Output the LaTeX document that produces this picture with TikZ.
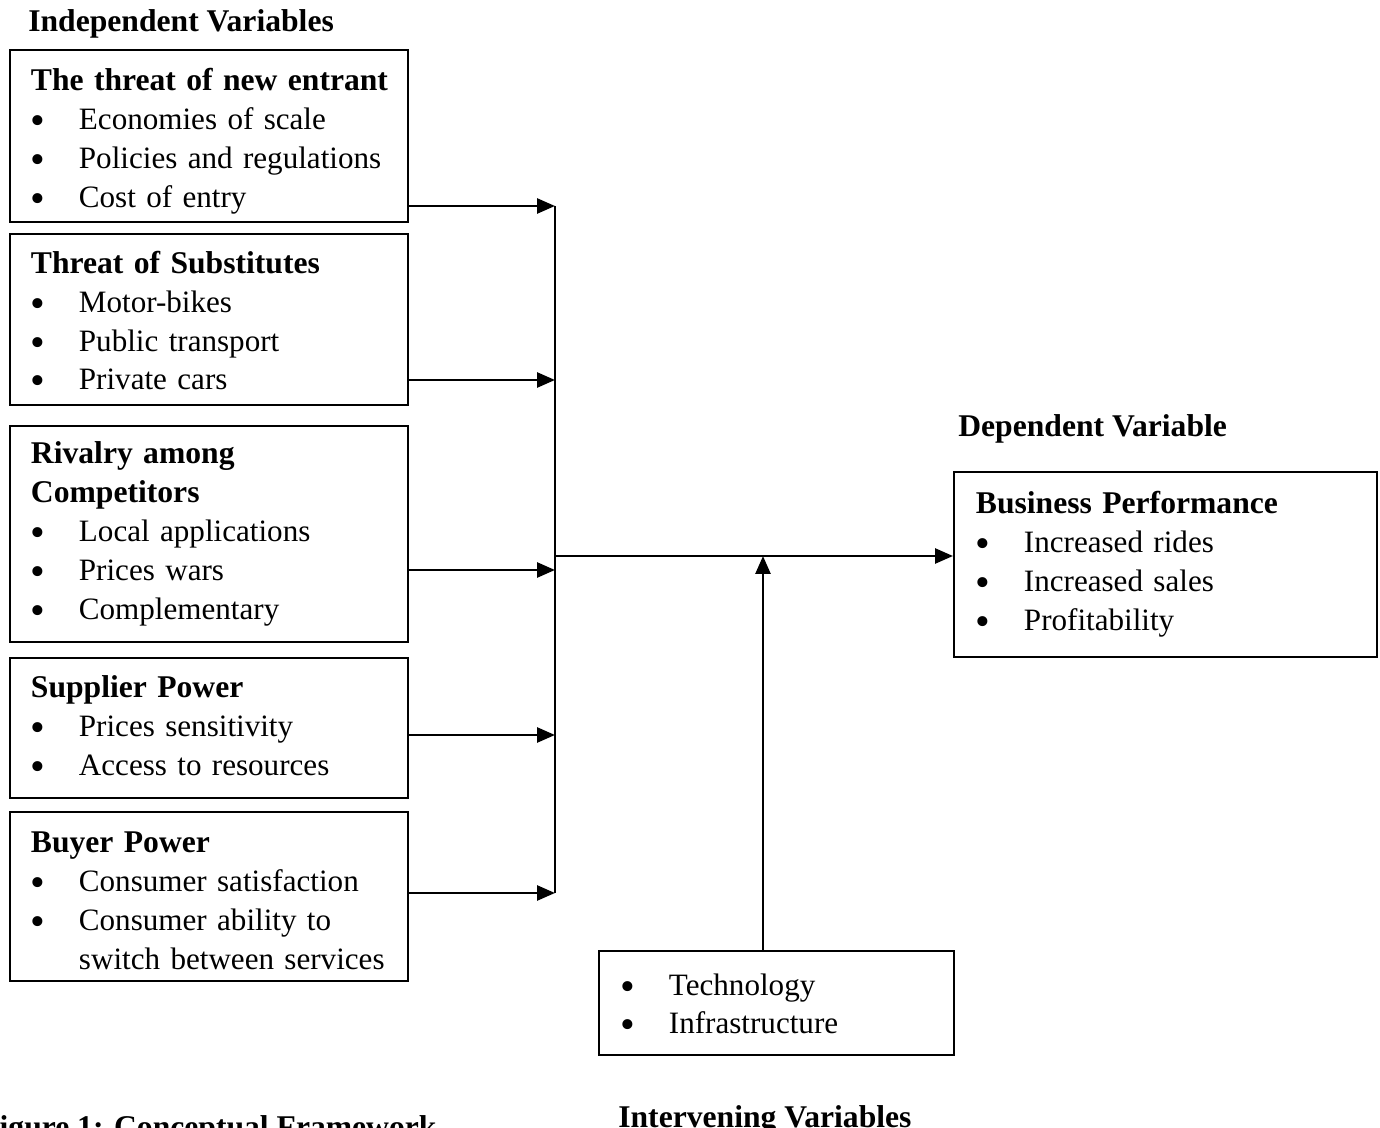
\documentclass[tikz,border=0pt]{standalone}
\usepackage{fontspec}
\setmainfont{Liberation Serif}
\usetikzlibrary{arrows.meta,positioning}
\newcommand{\varfont}{\fontsize{17.7pt}{22.1pt}\selectfont}
\newcommand{\itm}[1]{\mbox{\makebox[0.96cm][l]{\raisebox{-0.35ex}{\scalebox{1.35}{\textbullet}}}#1}}
\newcommand{\cont}[1]{\mbox{\hspace*{0.96cm}#1}}
\newcommand{\ttl}[1]{\mbox{\fontsize{18pt}{22.1pt}\selectfont\textbf{#1}}}
\tikzset{
  varbox/.style={
    draw=black,
    line width=1.1pt,
    anchor=north west,
    align=left,
    inner xsep=0.42cm,
    inner ysep=0pt,
    font=\varfont
  },
  heading/.style={anchor=base west, inner sep=0pt, font=\fontsize{18pt}{22.1pt}\selectfont\bfseries},
  line/.style={-{Triangle[length=3.6mm,width=3mm]}, line width=1.5pt},
  bus/.style={line width=1.5pt}
}

\begin{document}
\begin{tikzpicture}[x=0.02cm, y=-0.02cm]
  \clip (0,0) rectangle (1380,1128);
  % independent variables
  \node[heading] (indep) at (28,32) {Independent Variables};
  \node[varbox, text width=7.12cm, minimum height=3.44cm] (entrant) at (9,49) {\rule{0pt}{0.65cm}\ttl{The threat of new entrant}\\\itm{Economies of scale}\\\itm{Policies and regulations}\\\itm{Cost of entry}};
  \node[varbox, text width=7.12cm, minimum height=3.42cm] (subst) at (9,233) {\rule{0pt}{0.59cm}\ttl{Threat of Substitutes}\\\itm{Motor-bikes}\\\itm{Public transport}\\\itm{Private cars}};
  \node[varbox, text width=7.12cm, minimum height=4.32cm] (rivalry) at (9,425) {\ttl{Rivalry among}\\\ttl{Competitors}\\\itm{Local applications}\\\itm{Prices wars}\\\itm{Complementary}};
  \node[varbox, text width=7.12cm, minimum height=2.8cm] (supplier) at (9,657) {\ttl{Supplier Power}\\\itm{Prices sensitivity}\\\itm{Access to resources}};
  \node[varbox, text width=7.12cm, minimum height=3.38cm] (buyer) at (9,811) {\rule{0pt}{0.59cm}\ttl{Buyer Power}\\\itm{Consumer satisfaction}\\\itm{Consumer ability to}\\\cont{switch between services}};
  % dependent and intervening variables
  \node[heading] (dep) at (958,437) {Dependent Variable};
  \node[varbox, inner xsep=0.44cm, text width=7.58cm, minimum height=3.7cm] (perf) at (953,471) {\ttl{Business Performance}\\\itm{Increased rides}\\\itm{Increased sales}\\\itm{Profitability}};
  \node[varbox, inner xsep=0.44cm, text width=6.22cm, minimum height=2.08cm] (inter) at (598,950) {\rule{0pt}{0.56cm}\itm{Technology}\\\itm{Infrastructure}};
  \node[heading] (interlab) at (618,1127) {Intervening Variables};
  \node[heading] (caption) at (-20,1137) {Figure 1: Conceptual Framework};
  % junctions
  \coordinate (j1) at (555,206);
  \coordinate (j2) at (555,380);
  \coordinate (j3) at (555,570);
  \coordinate (j4) at (555,735);
  \coordinate (j5) at (555,893);
  \coordinate (jm) at (555,556);
  \coordinate (jv) at (763,556);
  \draw[line] (entrant.east |- j1) -- (j1);
  \draw[line] (subst.east |- j2) -- (j2);
  \draw[line] (rivalry.east |- j3) -- (j3);
  \draw[line] (supplier.east |- j4) -- (j4);
  \draw[line] (buyer.east |- j5) -- (j5);
  \draw[bus] (j1) -- (j5);
  \draw[line] (jm) -- (perf.west |- jm);
  \draw[line] (inter.north -| jv) -- (jv);
\end{tikzpicture}
\end{document}
